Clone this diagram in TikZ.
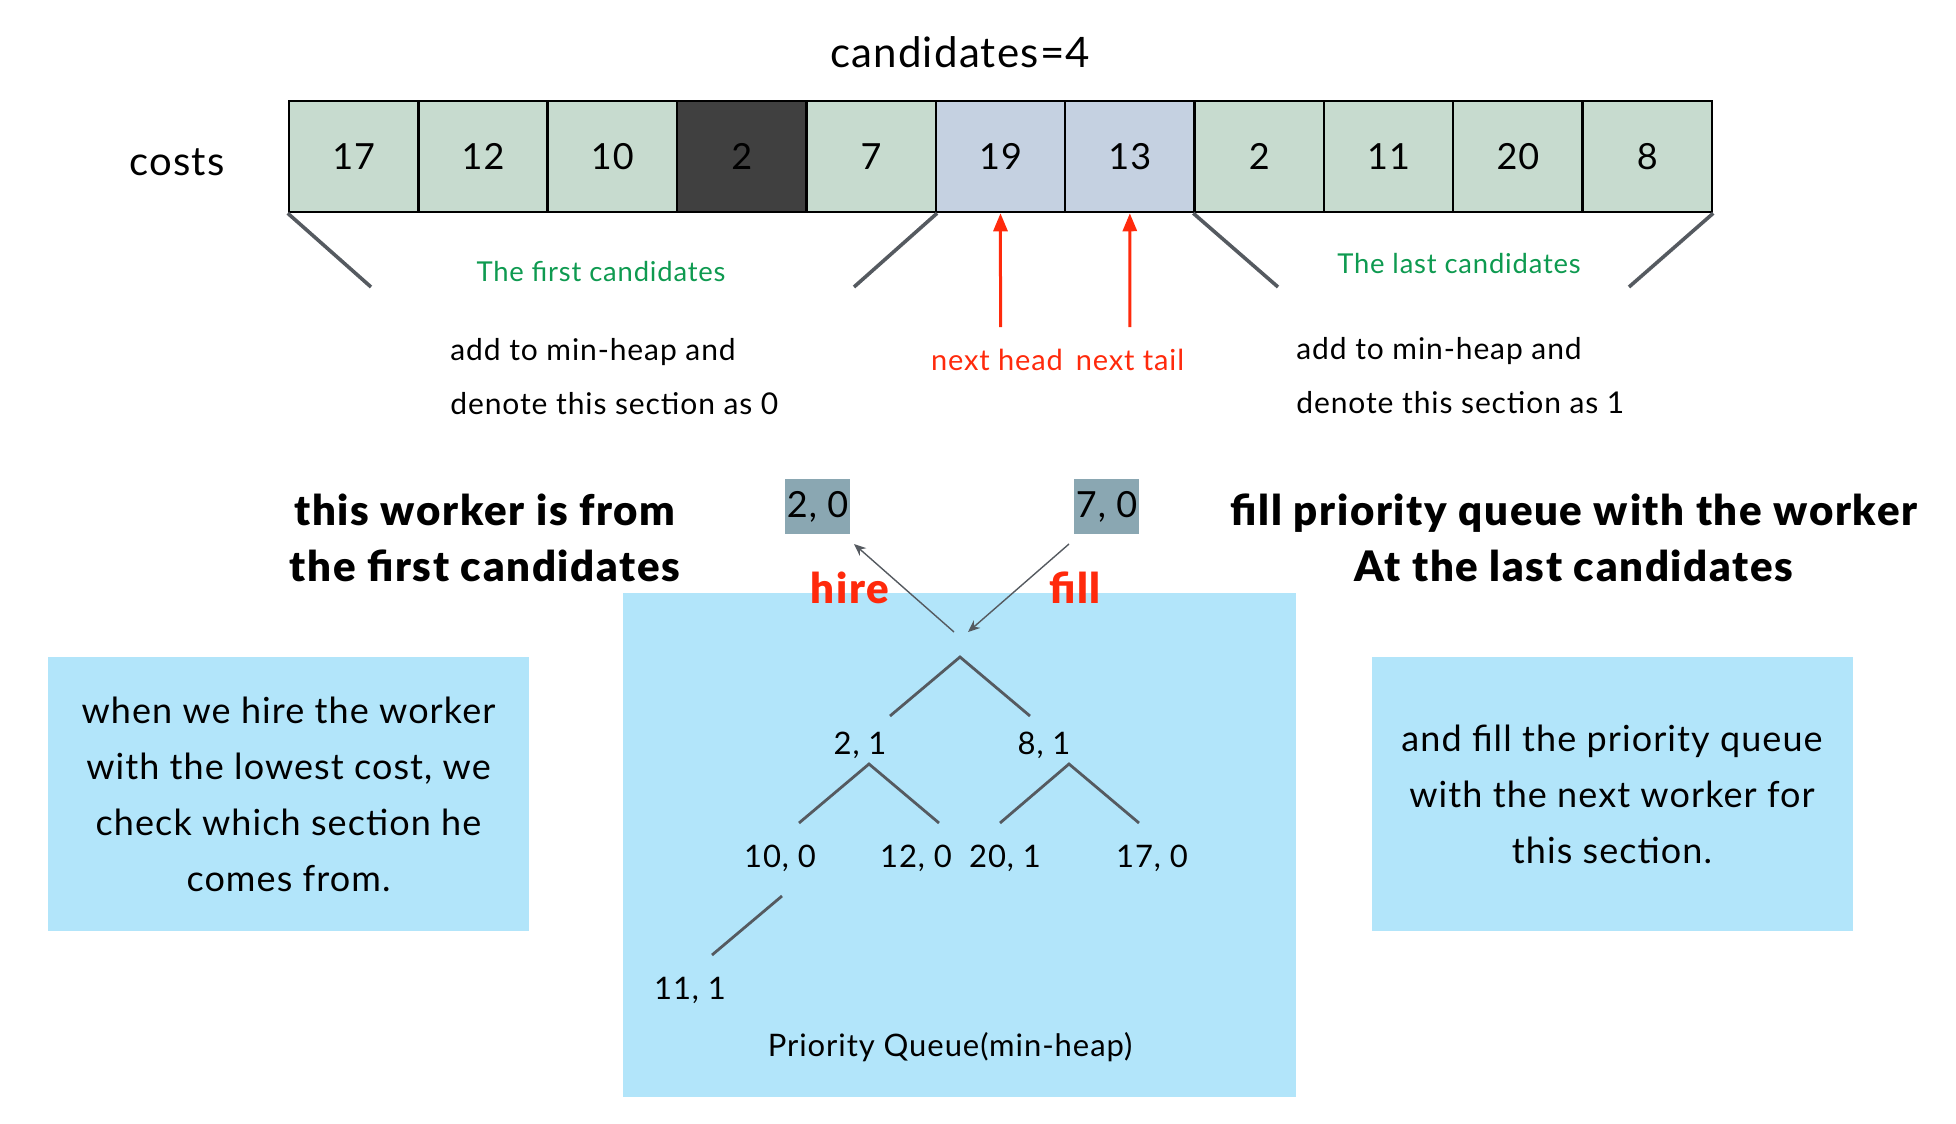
\documentclass[tikz,border=0pt]{standalone}
\usepackage{fontspec}
\setmainfont{Lato}[LetterSpace=3, BoldFont={Lato Black}, BoldFeatures={LetterSpace=4}]
\usepackage{tikz}
\usetikzlibrary{calc,arrows.meta}
\definecolor{cellg}{HTML}{C7DBCF}
\definecolor{celld}{HTML}{404040}
\definecolor{cellb}{HTML}{C5D1E1}
\definecolor{brk}{HTML}{555A60}
\definecolor{grn}{HTML}{0E9A50}
\definecolor{hot}{HTML}{FF2A0C}
\definecolor{pq}{HTML}{B2E5FA}
\definecolor{tag}{HTML}{8AA7B2}
\tikzset{
  cell/.style={draw=black, line width=1.25pt, minimum width=64.7pt, minimum height=55.5pt,
    inner sep=0pt, font=\fontsize{18}{22}\selectfont},
  brk/.style={draw=brk, line width=1.8pt},
  nxt/.style={draw=hot, line width=1.5pt, -{Triangle[length=9pt,width=7pt]}},
  mv/.style={draw=brk, line width=0.7pt, -{Stealth[length=6pt,width=5pt]}},
  edge/.style={draw=brk, line width=1.4pt},
  lab/.style={text=black, font=\fontsize{15}{27}\selectfont, inner sep=0pt},
  labg/.style={text=grn, font=\fontsize{13.7}{18}\selectfont, inner sep=0pt},
  labr/.style={text=hot, font=\fontsize{14.5}{18}\selectfont, inner sep=0pt},
  head/.style={font=\bfseries\fontsize{21}{28}\selectfont, align=center, inner sep=0pt},
  hot/.style={text=hot, font=\bfseries\fontsize{21}{24}\selectfont, inner sep=0pt},
  tagbox/.style={fill=tag, minimum width=32.5pt, minimum height=27.5pt, inner sep=0pt,
    font=\fontsize{18}{22}\selectfont},
  note/.style={fill=pq, minimum width=240.5pt, minimum height=137pt, align=center,
    font=\fontsize{18}{28}\selectfont},
  key/.style={font=\fontsize{15.5}{19}\selectfont, inner sep=0pt}
}

\begin{document}
\begin{tikzpicture}[x=0.5pt,y=-0.5pt]
  \useasboundingbox (0,0) rectangle (1956,1124);
  % cost array
  \node[font=\fontsize{21}{25}\selectfont] (title) at (960,52) {candidates=4};
  \node[font=\fontsize{20}{24}\selectfont] (costs) at (177,162) {costs};
  \foreach \v/\c [count=\i] in {17/cellg,12/cellg,10/cellg,2/celld,7/cellg,19/cellb,13/cellb,2/cellg,11/cellg,20/cellg,8/cellg}
    \node[cell,fill=\c] (c\i) at ({289+129.36*(\i-0.5)},156.5) {\v};
  % section brackets
  \coordinate (b1) at (371,287);
  \coordinate (b2) at (854,287);
  \coordinate (b3) at (1278,287);
  \coordinate (b4) at (1629,287);
  \draw[brk] (c1.south west) -- (b1);
  \draw[brk] (c5.south east) -- (b2);
  \draw[brk] (c8.south west) -- (b3);
  \draw[brk] (c11.south east) -- (b4);
  \node[labg] (first) at (601,272) {The first candidates};
  \node[labg] (last) at (1459,264) {The last candidates};
  % next head / tail
  \coordinate (nh) at (1000.5,327);
  \coordinate (nt) at (1129.9,327);
  \draw[nxt] (nh) -- (c6.south);
  \draw[nxt] (nt) -- (c7.south);
  \node[labr] (lh) at (997,360) {next head};
  \node[labr] (lt) at (1130,360) {next tail};
  \node[lab,align=left,anchor=west] (add0) at (450,377) {add to min-heap and\\denote this section as 0};
  \node[lab,align=left,anchor=west] (add1) at (1296,376) {add to min-heap and\\denote this section as 1};
  % headings
  \node[head] (hl) at (485,538) {this worker is from\\the first candidates};
  \node[head] (hr) at (1574,538) {fill priority queue with the worker\\At the last candidates};
  % priority queue
  \fill[pq] (623,593) rectangle (1296,1097);
  \node[tagbox] (t0) at (817.5,506.5) {2, 0};
  \node[tagbox] (t1) at (1106.5,506.5) {7, 0};
  \node[hot] (hire) at (850,588) {hire};
  \node[hot] (fill) at (1075,588) {fill};
  \coordinate (ho) at (954,632);
  \coordinate (hi) at (854,544);
  \coordinate (fo) at (1069,544);
  \coordinate (fi) at (968,632);
  \draw[mv] (ho) -- (hi);
  \draw[mv] (fo) -- (fi);
  % heap
  \coordinate (r0) at (960,657);
  \coordinate (r1) at (890,716);
  \coordinate (r2) at (1030,716);
  \draw[edge] (r1) -- (r0) -- (r2);
  \node[key] (n21) at (860,745) {2, 1};
  \node[key] (n81) at (1044,745) {8, 1};
  \coordinate (a1) at (869,764);
  \coordinate (a1l) at (799,823);
  \coordinate (a1r) at (939,823);
  \coordinate (a2) at (1069,764);
  \coordinate (a2l) at (1000,823);
  \coordinate (a2r) at (1139,823);
  \draw[edge] (a1l) -- (a1) -- (a1r);
  \draw[edge] (a2l) -- (a2) -- (a2r);
  \node[key] (n100) at (780,858) {10, 0};
  \node[key] (n120) at (916,858) {12, 0};
  \node[key] (n201) at (1005,858) {20, 1};
  \node[key] (n170) at (1152,858) {17, 0};
  \coordinate (d0) at (782,896);
  \coordinate (d1) at (712,955);
  \draw[edge] (d0) -- (d1);
  \node[key] (n111) at (690,990) {11, 1};
  \node[key] (pqname) at (950,1047) {Priority Queue(min-heap)};
  % side notes
  \node[note] (nl) at (288.5,794) {when we hire the worker\\with the lowest cost, we\\check which section he\\comes from.};
  \node[note] (nr) at (1612,794) {and fill the priority queue\\with the next worker for\\this section.};
\end{tikzpicture}
\end{document}
